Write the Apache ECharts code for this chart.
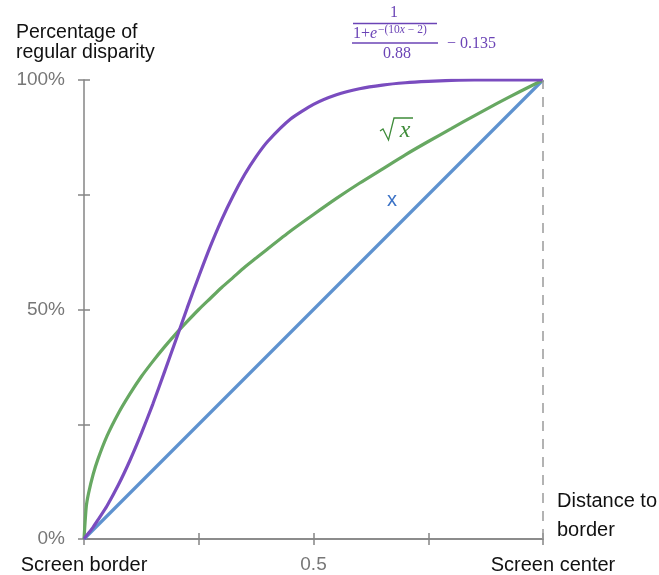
<!DOCTYPE html>
<html>
<head>
<meta charset="utf-8">
<script src="https://cdn.jsdelivr.net/npm/echarts@6/dist/echarts.min.js"></script>
<style>
  html, body { margin: 0; padding: 0; background: #fff; }
  #chart { width: 659px; height: 575px; }
</style>
</head>
<body>
<div id="chart"></div>
<script>
// distance to border (0 = screen border, 1 = screen center)
const xs = [0, 0.005, 0.01, 0.02, 0.03, 0.05, 0.075, 0.1, 0.125, 0.15, 0.175, 0.2, 0.225, 0.25, 0.275, 0.3,
  0.325, 0.35, 0.375, 0.4, 0.45, 0.5, 0.55, 0.6, 0.65, 0.7, 0.75, 0.8, 0.85, 0.9, 0.95, 1];
// sqrt(x) curve, percent
const sqrtY = [0, 7.1, 10, 14.1, 17.3, 22.4, 27.4, 31.6, 35.4, 38.7, 41.8, 44.7, 47.4, 50, 52.4, 54.8,
  57, 59.2, 61.2, 63.2, 67.1, 70.7, 74.2, 77.5, 80.6, 83.7, 86.6, 89.4, 92.2, 94.9, 97.5, 100];
// sigmoid curve, percent
const sigY = [0, 0.7, 1.3, 2.6, 4.1, 7.2, 11.8, 17.1, 23, 29.4, 36.3, 43.3, 50.4, 57.2, 63.7, 69.6,
  74.8, 79.4, 83.3, 86.6, 91.5, 94.7, 96.8, 98.1, 98.9, 99.4, 99.7, 99.9, 100, 100, 100, 100];
// linear
const linX = [0, 1];
const linY = [0, 100];

const yLabels = { 0: '0%', 50: '50%', 100: '100%' };
const xLabels = { 0: '{b|Screen border}', 0.5: '{g|0.5}', 1: '{c|Screen center}' };

const purple = '#7a4cbf';
const green = '#67a862';
const blue = '#5e92cf';
const mathPurple = '#6b44b6';
const mathGreen = '#3f8c3a';
const axisCol = '#858585';
const font = 'Liberation Sans';
const serif = 'Liberation Serif';

const chart = echarts.init(document.getElementById('chart'));

const pairs = (a, b) => a.map((v, i) => [v, b[i]]);

const axisBase = {
  type: 'value', min: 0, max: 1, interval: 0.25,
  axisLine: { show: true, lineStyle: { color: axisCol, width: 1.5 } },
  splitLine: { show: false }
};

chart.setOption({
  animation: false,
  grid: { left: 84, right: 116, top: 80, bottom: 36 },
  xAxis: [
    Object.assign({}, axisBase, {
      position: 'bottom',
      axisTick: { show: true, length: 6, lineStyle: { color: axisCol, width: 1.5 } },
      axisLabel: {
        margin: 16, fontFamily: font, fontSize: 20,
        formatter: v => xLabels[v] || '',
        rich: {
          b: { color: '#111', fontFamily: font, fontSize: 20 },
          c: { color: '#111', fontFamily: font, fontSize: 20, padding: [0, 0, 0, 20] },
          g: { color: '#777', fontFamily: font, fontSize: 19 }
        }
      }
    }),
    Object.assign({}, axisBase, {
      position: 'bottom',
      axisTick: { show: true, inside: true, length: 6, lineStyle: { color: axisCol, width: 1.5 } },
      axisLabel: { show: false }
    })
  ],
  yAxis: [
    Object.assign({}, axisBase, {
      max: 100, interval: 25, position: 'left',
      axisTick: { show: true, length: 6, lineStyle: { color: axisCol, width: 1.5 } },
      axisLabel: { margin: 19, color: '#777', fontFamily: font, fontSize: 19, formatter: v => yLabels[v] || '' }
    }),
    // right half of the crossing ticks
    Object.assign({}, axisBase, {
      max: 100, interval: 25, position: 'left', offset: -6,
      axisLine: { show: false },
      axisTick: { show: true, length: 6, lineStyle: { color: axisCol, width: 1.5 } },
      axisLabel: { show: false }
    })
  ],
  series: [
    {
      type: 'line', data: pairs(linX, linY), showSymbol: false,
      lineStyle: { color: blue, width: 3.2 },
      markLine: {
        silent: true, symbol: 'none', label: { show: false },
        lineStyle: { color: '#9a9a9a', type: [10, 8], width: 1.5 },
        data: [{ xAxis: 1 }]
      }
    },
    {
      type: 'line', data: pairs(xs, sqrtY), showSymbol: false, smooth: 0.2,
      lineStyle: { color: green, width: 3.2 }
    },
    {
      type: 'line', data: pairs(xs, sigY), showSymbol: false, smooth: 0.2,
      lineStyle: { color: purple, width: 3.2 }
    }
  ],
  graphic: [
    { type: 'text', left: 16, top: 23, style: { text: 'Percentage of\nregular disparity', fill: '#111', font: '19.5px ' + font, lineHeight: 20 } },
    { type: 'text', left: 557, top: 487, style: { text: 'Distance to\nborder', fill: '#111', font: '20px ' + font, lineHeight: 29 } },
    // formula
    { type: 'text', x: 394, y: 13, style: { text: '1', fill: mathPurple, font: '16px ' + serif, align: 'center', verticalAlign: 'middle' } },
    { type: 'line', shape: { x1: 353, y1: 23.5, x2: 437, y2: 23.5 }, style: { stroke: mathPurple, lineWidth: 1.3 } },
    { type: 'text', x: 353, y: 33.5, style: { text: '1+', fill: mathPurple, font: '16px ' + serif, verticalAlign: 'middle' } },
    { type: 'text', x: 370, y: 33.5, style: { text: 'e', fill: mathPurple, font: 'italic 16px ' + serif, verticalAlign: 'middle' } },
    {
      type: 'text', x: 378, y: 29.5, style: {
        text: '{a|−(10}{b|x}{a| − 2)}', verticalAlign: 'middle',
        rich: {
          a: { font: '11.5px ' + serif, fill: mathPurple },
          b: { font: 'italic 11.5px ' + serif, fill: mathPurple }
        }
      }
    },
    { type: 'line', shape: { x1: 352, y1: 43, x2: 438, y2: 43 }, style: { stroke: mathPurple, lineWidth: 1.3 } },
    { type: 'text', x: 397, y: 54, style: { text: '0.88', fill: mathPurple, font: '16px ' + serif, align: 'center', verticalAlign: 'middle' } },
    { type: 'text', x: 447, y: 43.5, style: { text: '− 0.135', fill: mathPurple, font: '16px ' + serif, verticalAlign: 'middle' } },
    // sqrt label
    {
      type: 'polyline', shape: { points: [[380, 131], [383, 129], [388.5, 140], [394, 118], [413, 118]] },
      style: { stroke: mathGreen, lineWidth: 1.3, fill: null }
    },
    { type: 'text', x: 405, y: 131, style: { text: 'x', fill: mathGreen, font: 'italic 24px ' + serif, align: 'center', verticalAlign: 'middle' } },
    // linear label
    { type: 'text', x: 392, y: 200, style: { text: 'x', fill: '#3b72c6', font: '20px ' + font, align: 'center', verticalAlign: 'middle' } }
  ]
});
</script>
</body>
</html>
